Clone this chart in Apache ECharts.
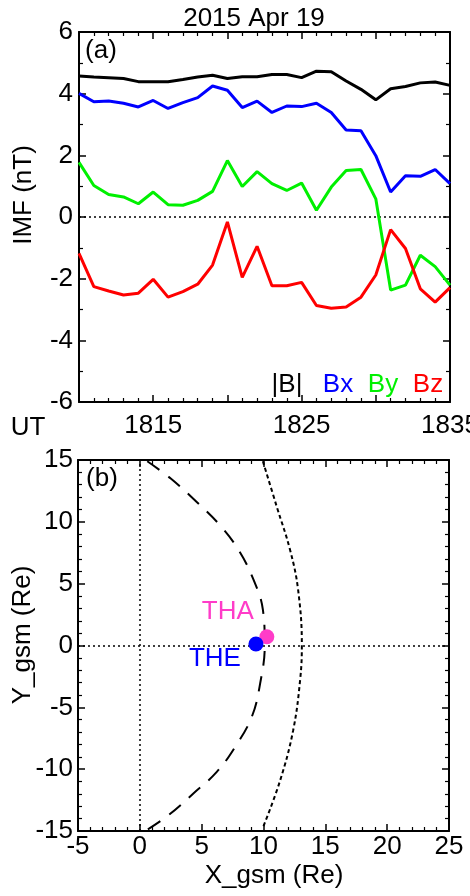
<!DOCTYPE html>
<html><head><meta charset="utf-8">
<script src="https://cdn.jsdelivr.net/npm/echarts/dist/echarts.min.js"></script>
<style>html,body{margin:0;padding:0;background:#fff}#c{width:470px;height:896px}</style>
</head><body><div id="c"></div>
<script>
// ---- Panel (a): IMF components, one value per minute (UT) ----
const timeUT = [1810,1811,1812,1813,1814,1815,1816,1817,1818,1819,1820,1821,1822,1823,1824,1825,1826,1827,1828,1829,1830,1831,1832,1833,1834,1835];
const absB = [4.57,4.54,4.52,4.49,4.39,4.39,4.39,4.46,4.54,4.60,4.49,4.55,4.55,4.62,4.62,4.52,4.73,4.71,4.41,4.14,3.80,4.16,4.23,4.35,4.38,4.27];
const bx   = [4.01,3.74,3.76,3.69,3.57,3.78,3.52,3.71,3.87,4.25,4.11,3.55,3.76,3.39,3.60,3.58,3.69,3.39,2.82,2.80,1.99,0.81,1.34,1.32,1.54,1.08];
const by   = [1.77,1.02,0.73,0.65,0.43,0.81,0.40,0.38,0.54,0.83,1.83,0.99,1.47,1.08,0.86,1.10,0.22,0.97,1.51,1.54,0.59,-2.37,-2.21,-1.24,-1.61,-2.21];
const bz   = [-1.18,-2.26,-2.40,-2.53,-2.47,-2.02,-2.60,-2.42,-2.18,-1.56,-0.16,-1.96,-0.95,-2.23,-2.23,-2.12,-2.87,-2.96,-2.92,-2.60,-1.88,-0.41,-1.02,-2.33,-2.76,-2.29];
const seriesNames = ['|B|','Bx','By','Bz'];
const timeTickLabels = [1815,1825,1835];

// ---- Panel (b): GSM positions ----
const mpX = [0.6,2.5,4.6,6.5,8.0,9.2,9.95,10.1,9.73,9.06,7.72,6.24,4.35,2.34,0.6];
const mpY = [14.9,13.5,11.6,9.7,7.7,5.3,2.9,0,-3.06,-5.75,-8.18,-10.2,-11.95,-13.7,-14.9];
const bsX = [9.95,11.08,12.15,12.8,13.1,12.96,12.4,11.35,10.0];
const bsY = [14.9,11.2,7.72,4.49,0,-2.8,-6.85,-10.9,-14.6];
const probeNames = ['THA','THE'];
const probeX = [10.27,9.39];
const probeY = [0.71,0.12];

const FONT = '"Liberation Sans", Arial, Helvetica, sans-serif';
const FS = 26;
const lineColors = ['#000000','#0000ff','#00f000','#ff0000'];
const probeColors = ['#ff3cc8','#0000ff'];

function axisBase(opts) {
  return Object.assign({
    axisLine: {show: true, onZero: false, lineStyle: {color: '#000', width: 2}},
    axisTick: {show: true, inside: true, length: 7, lineStyle: {color: '#000', width: 1.5}},
    minorTick: {show: true, length: 4, lineStyle: {color: '#000', width: 1.2}},
    splitLine: {show: false},
    axisLabel: {show: false, color: '#000', fontFamily: FONT, fontSize: FS}
  }, opts);
}
const minor = n => ({show: true, splitNumber: n, length: 4, lineStyle: {color: '#000', width: 1.2}});

const chart = echarts.init(document.getElementById('c'), null, {renderer: 'canvas'});

const xAxes = [
  axisBase({gridIndex: 0, type: 'value', position: 'bottom', min: 1810, max: 1835, interval: 5, minorTick: minor(5),
    axisLabel: {show: true, color: '#000', fontFamily: FONT, fontSize: FS, margin: 11,
      formatter: v => timeTickLabels.indexOf(v) >= 0 ? String(v) : ''}}),
  axisBase({gridIndex: 0, type: 'value', position: 'top', min: 1810, max: 1835, interval: 5, minorTick: minor(5)}),
  axisBase({gridIndex: 1, type: 'value', position: 'bottom', min: -5, max: 25, interval: 5, minorTick: minor(5),
    axisLabel: {show: true, color: '#000', fontFamily: FONT, fontSize: FS, margin: 3}}),
  axisBase({gridIndex: 1, type: 'value', position: 'top', min: -5, max: 25, interval: 5, minorTick: minor(5)})
];
const yAxes = [
  axisBase({gridIndex: 0, type: 'value', position: 'left', min: -6, max: 6, interval: 2, minorTick: minor(2),
    axisLabel: {show: true, color: '#000', fontFamily: FONT, fontSize: FS, margin: 6}}),
  axisBase({gridIndex: 0, type: 'value', position: 'right', min: -6, max: 6, interval: 2, minorTick: minor(2)}),
  axisBase({gridIndex: 1, type: 'value', position: 'left', min: -15, max: 15, interval: 5, minorTick: minor(5),
    axisLabel: {show: true, color: '#000', fontFamily: FONT, fontSize: FS, margin: 5}}),
  axisBase({gridIndex: 1, type: 'value', position: 'right', min: -15, max: 15, interval: 5, minorTick: minor(5)})
];

const imfValues = [absB, bx, by, bz];
const dotted = {color: '#000', type: [2, 3], width: 1.5};
const series = imfValues.map((vals, i) => ({
  name: seriesNames[i], type: 'line', xAxisIndex: 0, yAxisIndex: 0,
  data: timeUT.map((t, k) => [t, vals[k]]),
  showSymbol: false, symbol: 'none',
  lineStyle: {color: lineColors[i], width: 3},
  z: 3 + i,
  markLine: i === 0 ? {silent: true, symbol: ['none', 'none'], label: {show: false},
    lineStyle: dotted, data: [{yAxis: 0}]} : undefined
}));

series.push({
  name: 'magnetopause', type: 'line', xAxisIndex: 2, yAxisIndex: 2,
  data: mpX.map((x, k) => [x, mpY[k]]), smooth: 0.4, showSymbol: false, symbol: 'none',
  lineStyle: {color: '#000', width: 2, type: [15, 11]},
  markLine: {silent: true, symbol: ['none', 'none'], label: {show: false},
    lineStyle: dotted, data: [{xAxis: 0}, {yAxis: 0}]}
});
series.push({
  name: 'bow shock', type: 'line', xAxisIndex: 2, yAxisIndex: 2,
  data: bsX.map((x, k) => [x, bsY[k]]), smooth: 0.4, showSymbol: false, symbol: 'none',
  lineStyle: {color: '#000', width: 2, type: [4, 3]}
});
const labelOffsets = [[-39, -25], [-41, 15]];
probeNames.forEach((n, i) => {
  series.push({
    name: n, type: 'scatter', xAxisIndex: 2, yAxisIndex: 2, z: 5 + i,
    data: [[probeX[i], probeY[i]]], symbolSize: 15,
    itemStyle: {color: probeColors[i], opacity: 1},
    label: {show: true, formatter: n, position: 'inside', offset: labelOffsets[i],
      color: probeColors[i], opacity: 1, fontFamily: FONT, fontSize: FS}
  });
});

const txt = (x, y, text, extra) => ({type: 'text', x: x, y: y, z: 100,
  style: Object.assign({text: text, fill: '#000', font: FS + 'px ' + FONT, textAlign: 'center', textVerticalAlign: 'middle'}, extra || {})});

const legendX = [287, 338, 383, 428];
const graphics = [
  txt(254, 19, '2015 Apr 19'),
  txt(101, 51, '(a)'),
  txt(102, 479, '(b)'),
  txt(28, 428, 'UT'),
  Object.assign(txt(24, 195, 'IMF (nT)'), {rotation: Math.PI / 2}),
  Object.assign(txt(23, 635, 'Y_gsm (Re)'), {rotation: Math.PI / 2}),
  txt(274, 876, 'X_gsm (Re)')
].concat(seriesNames.map((n, i) => txt(legendX[i], 385, n, {fill: lineColors[i]})));

chart.setOption({
  animation: false,
  backgroundColor: '#fff',
  grid: [
    {left: 79, top: 32, width: 371, height: 370, outerBoundsMode: 'none', containLabel: false},
    {left: 78, top: 460, width: 371, height: 371, outerBoundsMode: 'none', containLabel: false}
  ],
  xAxis: xAxes,
  yAxis: yAxes,
  series: series,
  graphic: graphics
});
</script>
</body></html>
